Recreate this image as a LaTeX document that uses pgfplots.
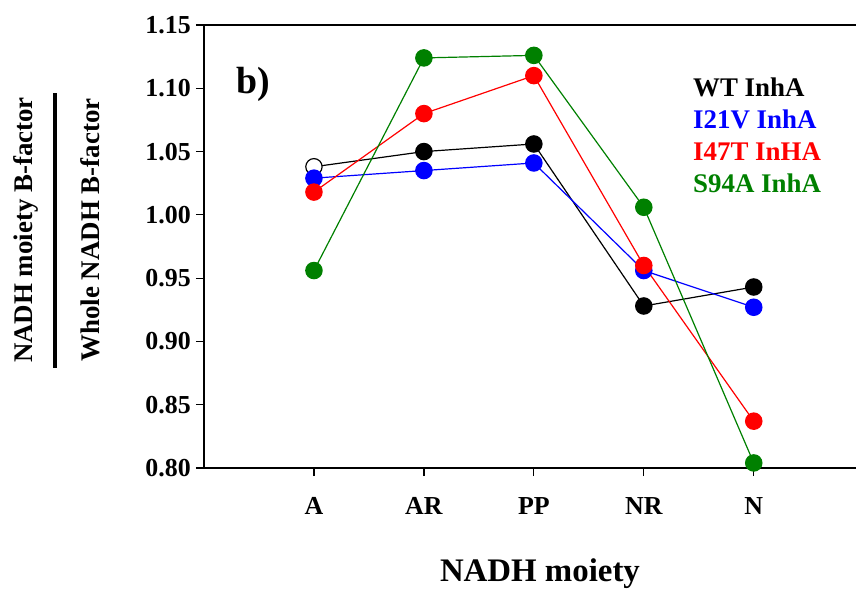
\documentclass[border=0pt]{standalone}
\usepackage{pgfplots}
\pgfplotsset{compat=1.18}
\usepackage{fontspec}
\setmainfont{Liberation Serif}
\definecolor{dgreen}{RGB}{0,128,0}
\definecolor{mblue}{RGB}{0,0,255}
\definecolor{mred}{RGB}{255,0,0}
\begin{document}
\begin{tikzpicture}
\begin{axis}[
  scale only axis, width=652bp, height=443bp,
  xmin=-1, xmax=4.93, ymin=0.80, ymax=1.15,
  clip=false,
  axis x line*=box, axis y line*=left,
  axis line style={-, line width=1.2bp},
  xtick={0,1,2,3,4}, xticklabels={A,AR,PP,NR,N}, xtick pos=bottom,
  ytick={0.80,0.85,0.90,0.95,1.00,1.05,1.10,1.15}, ytick pos=left,
  tick align=outside, major tick length=8bp,
  every tick/.style={black, line width=1.2bp},
  /pgf/number format/assume math mode=true,
  yticklabel style={/pgf/number format/fixed, /pgf/number format/fixed zerofill, /pgf/number format/precision=2, inner sep=0pt, anchor=east, xshift=-5bp},
  xticklabel style={inner sep=0pt, anchor=north, yshift=-21bp},
  tick label style={font=\fontsize{26}{30}\selectfont\bfseries},
  every axis plot/.append style={line width=1.2bp, mark=*, mark size=8.2pt},
]
\addplot[black, mark indices={2,3,4,5}, mark options={fill=black}] coordinates {(0,1.038) (1,1.050) (2,1.056) (3,0.928) (4,0.943)};
\addplot[black, only marks, mark options={fill=white, line width=1.2bp}] coordinates {(0,1.038)};
\addplot[mblue, mark options={fill=mblue}] coordinates {(0,1.029) (1,1.035) (2,1.041) (3,0.956) (4,0.927)};
\addplot[mred, mark options={fill=mred}] coordinates {(0,1.018) (1,1.080) (2,1.110) (3,0.960) (4,0.837)};
\addplot[dgreen, mark options={fill=dgreen}] coordinates {(0,0.956) (1,1.124) (2,1.126) (3,1.006) (4,0.804)};

\coordinate (bl) at (rel axis cs:0,0);
\coordinate (tr) at (rel axis cs:1,1);

\node[anchor=base west, inner sep=0pt, font=\fontsize{38}{44}\selectfont\bfseries] at (rel axis cs:0.0502,0.8458) {b)};
\begin{scope}[every node/.style={anchor=base west, inner sep=0pt, font=\fontsize{27}{32}\selectfont\bfseries}]
\node[text=black] at (rel axis cs:0.750,0.8386) {WT InhA};
\node[text=mblue] at (rel axis cs:0.750,0.7664) {I21V InhA};
\node[text=mred] at (rel axis cs:0.750,0.6941) {I47T InHA};
\node[text=dgreen] at (rel axis cs:0.750,0.6230) {S94A InhA};
\end{scope}
\node[anchor=base, inner sep=0pt, font=\fontsize{33}{38}\selectfont\bfseries] at (rel axis cs:0.5153,-0.2551) {NADH moiety};
\node[rotate=90, anchor=center, inner sep=0pt, font=\fontsize{27}{32}\selectfont\bfseries] at (rel axis cs:-0.2258,0.5372)
  {\vbox{\offinterlineskip\hsize=290bp
    \hbox to \hsize{\hfil NADH moiety B-factor\hfil}
    \kern15bp
    \hbox to \hsize{\hfil\rule{275bp}{4bp}\hfil}
    \kern24bp
    \hbox to \hsize{\hfil Whole NADH B-factor\hfil}}};
\end{axis}
\pgfresetboundingbox
\path ([shift={(-204bp,-121bp)}]bl) rectangle ([shift={(0bp,25bp)}]tr);
\end{tikzpicture}
\end{document}
